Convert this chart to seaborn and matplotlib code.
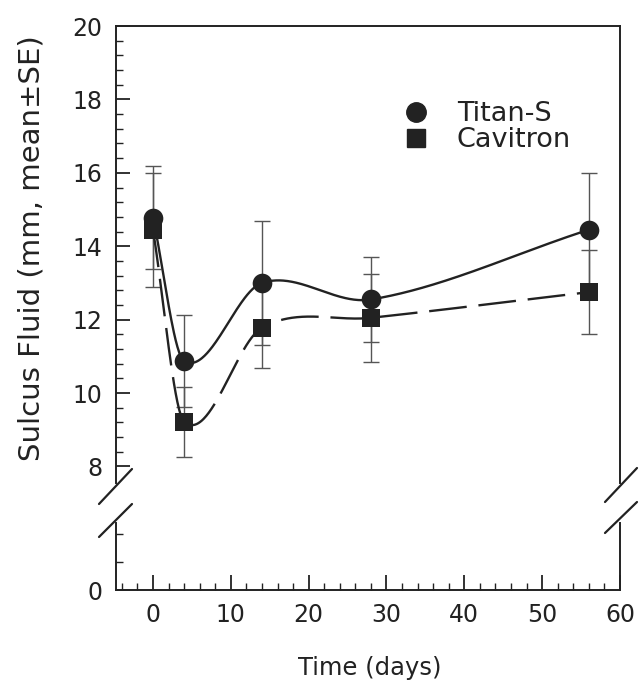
import numpy as np
import pandas as pd
import matplotlib
matplotlib.use("Agg")
import matplotlib.pyplot as plt
import seaborn as sns
from matplotlib.ticker import FixedLocator
from matplotlib.lines import Line2D

# ---- data ----
days = [0, 4, 14, 28, 56]
titan_mean = [14.78, 10.87, 13.0, 12.55, 14.45]
titan_se = [1.4, 1.25, 1.7, 1.15, 1.55]
cavitron_mean = [14.45, 9.22, 11.78, 12.05, 12.75]
cavitron_se = [1.55, 0.95, 1.1, 1.2, 1.15]
series_names = ["Titan-S", "Cavitron"]
y_major_ticks = [8, 10, 12, 14, 16, 18, 20]
x_major_ticks = [0, 10, 20, 30, 40, 50, 60]

sns.set_theme(style="white")
plt.rcParams["font.family"] = ["DejaVu Sans"]
INK = "#222222"
TICK_FS = 17


def smooth_curve(x, y, xs):
    """Cubic Hermite curve through the points (Catmull-Rom style tangents)."""
    x = np.asarray(x, float)
    y = np.asarray(y, float)
    n = len(x)
    m = np.empty(n)
    m[0] = (y[1] - y[0]) / (x[1] - x[0])
    m[-1] = (y[-1] - y[-2]) / (x[-1] - x[-2])
    m[1:-1] = (y[2:] - y[:-2]) / (x[2:] - x[:-2])
    idx = np.clip(np.searchsorted(x, xs) - 1, 0, n - 2)
    h = x[idx + 1] - x[idx]
    t = (xs - x[idx]) / h
    h00 = 2 * t ** 3 - 3 * t ** 2 + 1
    h10 = t ** 3 - 2 * t ** 2 + t
    h01 = -2 * t ** 3 + 3 * t ** 2
    h11 = t ** 3 - t ** 2
    return h00 * y[idx] + h10 * h * m[idx] + h01 * y[idx + 1] + h11 * h * m[idx + 1]


df = pd.DataFrame({
    "day": days * 2,
    "value": titan_mean + cavitron_mean,
    "se": titan_se + cavitron_se,
    "device": [series_names[0]] * len(days) + [series_names[1]] * len(days),
})

fig = plt.figure(figsize=(6.4, 6.94), dpi=100)
L, W = 116 / 640, (620 - 116) / 640
ax = fig.add_axes([L, 1 - 483 / 694, W, (483 - 26) / 694])
axb = fig.add_axes([L, 1 - 590 / 694, W, (590 - 523) / 694])

xlim = (-4.75, 60)
for a in (ax, axb):
    a.set_xlim(*xlim)
    a.set_facecolor("white")
    for s in a.spines.values():
        s.set_color(INK)
        s.set_linewidth(1.4)
ax.set_ylim(7.55, 20)
axb.set_ylim(0, 2.4)

# smooth curves
xs = np.linspace(days[0], days[-1], 500)
curve_t = smooth_curve(days, titan_mean, xs)
curve_c = smooth_curve(days, cavitron_mean, xs)
sns.lineplot(x=xs, y=curve_t, ax=ax, color=INK, lw=1.7, sort=False, zorder=2)
sns.lineplot(x=xs, y=curve_c, ax=ax, color=INK, lw=1.7, sort=False, zorder=2)
ax.lines[-1].set_dashes((16, 5))

# error bars
for name in series_names:
    sub = df[df.device == name]
    ax.errorbar(sub["day"], sub["value"], yerr=sub["se"], fmt="none",
                ecolor="#555555", elinewidth=1.0, capsize=6, capthick=1.0, zorder=1)

# markers
sns.scatterplot(data=df[df.device == "Titan-S"], x="day", y="value", marker="o",
                s=200, color=INK, edgecolor=INK, linewidth=0, ax=ax, zorder=3, legend=False)
sns.scatterplot(data=df[df.device == "Cavitron"], x="day", y="value", marker="s",
                s=170, color=INK, edgecolor=INK, linewidth=0, ax=ax, zorder=3, legend=False)

# top axes styling
ax.spines["bottom"].set_visible(False)
ax.set_xlabel("")
ax.set_ylabel("")
ax.tick_params(axis="x", which="both", bottom=False, top=False, labelbottom=False)
ax.yaxis.set_major_locator(FixedLocator(y_major_ticks))
ax.yaxis.set_minor_locator(FixedLocator(np.arange(8, 20.01, 0.4)))
ax.tick_params(axis="y", which="major", direction="in", length=10, width=1.3,
               color=INK, labelsize=TICK_FS, labelcolor=INK, pad=10, left=True, right=False)
ax.tick_params(axis="y", which="minor", direction="in", length=5, width=1.0,
               color=INK, left=True, right=False)

# bottom axes styling
axb.spines["top"].set_visible(False)
axb.set_yticks([0])
axb.set_yticklabels(["0"])
axb.yaxis.set_minor_locator(FixedLocator([1, 2]))
axb.xaxis.set_major_locator(FixedLocator(x_major_ticks))
axb.xaxis.set_minor_locator(FixedLocator(np.arange(-4, 60, 2)))
axb.tick_params(axis="y", which="major", direction="in", length=10, width=1.3,
                color=INK, labelsize=TICK_FS, labelcolor=INK, pad=10, left=True, right=False)
axb.tick_params(axis="y", which="minor", direction="in", length=5, width=1.0,
                color=INK, left=True, right=False)
axb.tick_params(axis="x", which="major", direction="in", length=11, width=1.3,
                color=INK, labelsize=TICK_FS, labelcolor=INK, pad=9, bottom=True, top=False)
axb.tick_params(axis="x", which="minor", direction="in", length=5, width=1.0,
                color=INK, bottom=True, top=False)

# axis-break slashes
def px_line(x0, y0, x1, y1):
    fig.add_artist(Line2D([x0 / 640, x1 / 640], [1 - y0 / 694, 1 - y1 / 694],
                          transform=fig.transFigure, color=INK, lw=1.6))

px_line(99, 504, 132, 469)
px_line(99, 537, 132, 504)
px_line(605, 502, 637, 468)
px_line(605, 533, 637, 502)

# legend
handles = [Line2D([], [], marker="o", ls="none", color=INK, markersize=14),
           Line2D([], [], marker="s", ls="none", color=INK, markersize=13)]
leg = ax.legend(handles, series_names, loc="center left",
                bbox_to_anchor=(389 / 640, 1 - 127 / 694), bbox_transform=fig.transFigure,
                frameon=False, fontsize=19.5, handlelength=1.0, handletextpad=1.0,
                labelspacing=0.0, borderpad=0.0)
for t in leg.get_texts():
    t.set_color(INK)

# axis titles
fig.text(32 / 640, 1 - 248 / 694, "Sulcus Fluid (mm, mean\u00b1SE)", rotation=90,
         ha="center", va="center", fontsize=21, color=INK)
fig.text(370 / 640, 1 - 668 / 694, "Time (days)", ha="center", va="center",
         fontsize=17.5, color=INK)

fig.savefig("out.png", dpi=100, facecolor="white")
